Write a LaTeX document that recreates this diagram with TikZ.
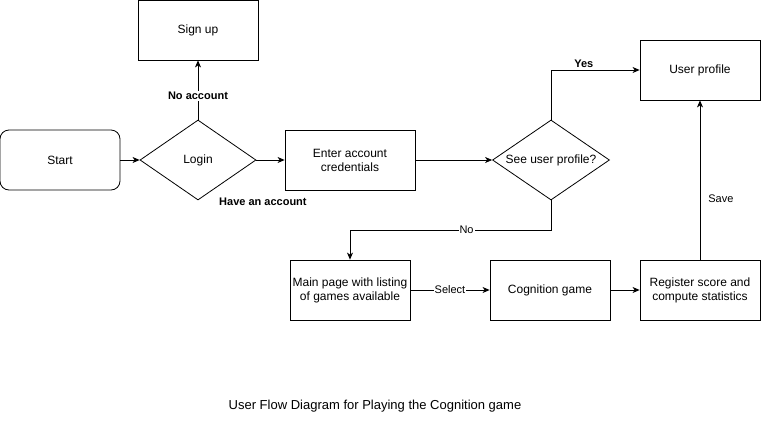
\documentclass[tikz,border=0pt]{standalone}
\usepackage{fontspec}
\setmainfont{Liberation Sans}
\usepackage{tikz}
\usetikzlibrary{arrows.meta,positioning,shapes.geometric}
\definecolor{traco}{RGB}{0,0,0}
\definecolor{fundo}{RGB}{255,255,255}
\tikzset{
  caixa/.style={rectangle,draw=traco,fill=fundo,line width=0.8pt,minimum width=120pt,
    minimum height=60pt,align=center,inner sep=1pt,font=\fontsize{12}{14}\selectfont},
  inicio/.style={caixa,rounded corners=9pt},
  decisao/.style={diamond,draw=traco,fill=fundo,line width=0.8pt,minimum width=116pt,
    minimum height=80pt,inner sep=0pt},
  textodec/.style={font=\fontsize{12}{14}\selectfont,inner sep=0pt},
  seta/.style={-{Stealth[length=7pt,width=6pt,inset=2pt]},line width=0.8pt,traco},
  rotulo/.style={fill=fundo,inner sep=1pt,font=\fontsize{11}{13}\selectfont}
}
\begin{document}
\begin{tikzpicture}[x=1pt,y=-1pt]
\useasboundingbox (0,0) rectangle (761,421);
% boxes
\node[inicio] (inicio) at (60,160) {Start};
\node[decisao,label={[textodec]center:Login}] (login) at (198,160) {};
\node[caixa] (signup) at (198,30) {Sign up};
\node[caixa,minimum width=130pt] (credenciais) at (350,160) {Enter account\\credentials};
\node[decisao,minimum width=117pt,label={[textodec]center:See user profile?}] (perfil) at (551,160) {};
\node[caixa] (userprof) at (700,70) {User profile};
\node[caixa] (listagem) at (350,290) {Main page with listing\\of games available};
\node[caixa] (jogo) at (550,290) {Cognition game};
\node[caixa] (registro) at (700,290) {Register score and\\compute statistics};
\coordinate (desvio) at (551,230);
% connectors
\draw[seta] (inicio) -- (login);
\draw[seta] (login) -- node[rotulo,pos=0.4,font=\fontsize{11}{13}\selectfont\bfseries] {No account} (signup);
\node[rotulo,anchor=west,font=\fontsize{11}{13}\selectfont\bfseries] (temconta) at ([xshift=20pt,yshift=-1pt]login.south) {Have an account};
\draw[seta] (login) -- (credenciais);
\draw[seta] (credenciais) -- (perfil);
\draw[seta] (perfil.north) |- node[pos=0.685,above,inner sep=2pt,font=\fontsize{11}{13}\selectfont\bfseries] {Yes} (userprof);
\draw[seta] (perfil.south) -- (desvio) -| node[rotulo,pos=0.21] {No} (listagem);
\draw[seta] (listagem) -- node[rotulo] {Select} (jogo);
\draw[seta] (jogo) -- (registro);
\draw[seta] (registro) -- node[pos=0.38,right,inner sep=8pt,font=\fontsize{11}{13}\selectfont] {Save} (userprof);
% caption
\node[font=\fontsize{13}{15}\selectfont] (legenda) at (375,406) {User Flow Diagram for Playing the Cognition game};
\end{tikzpicture}
\end{document}
